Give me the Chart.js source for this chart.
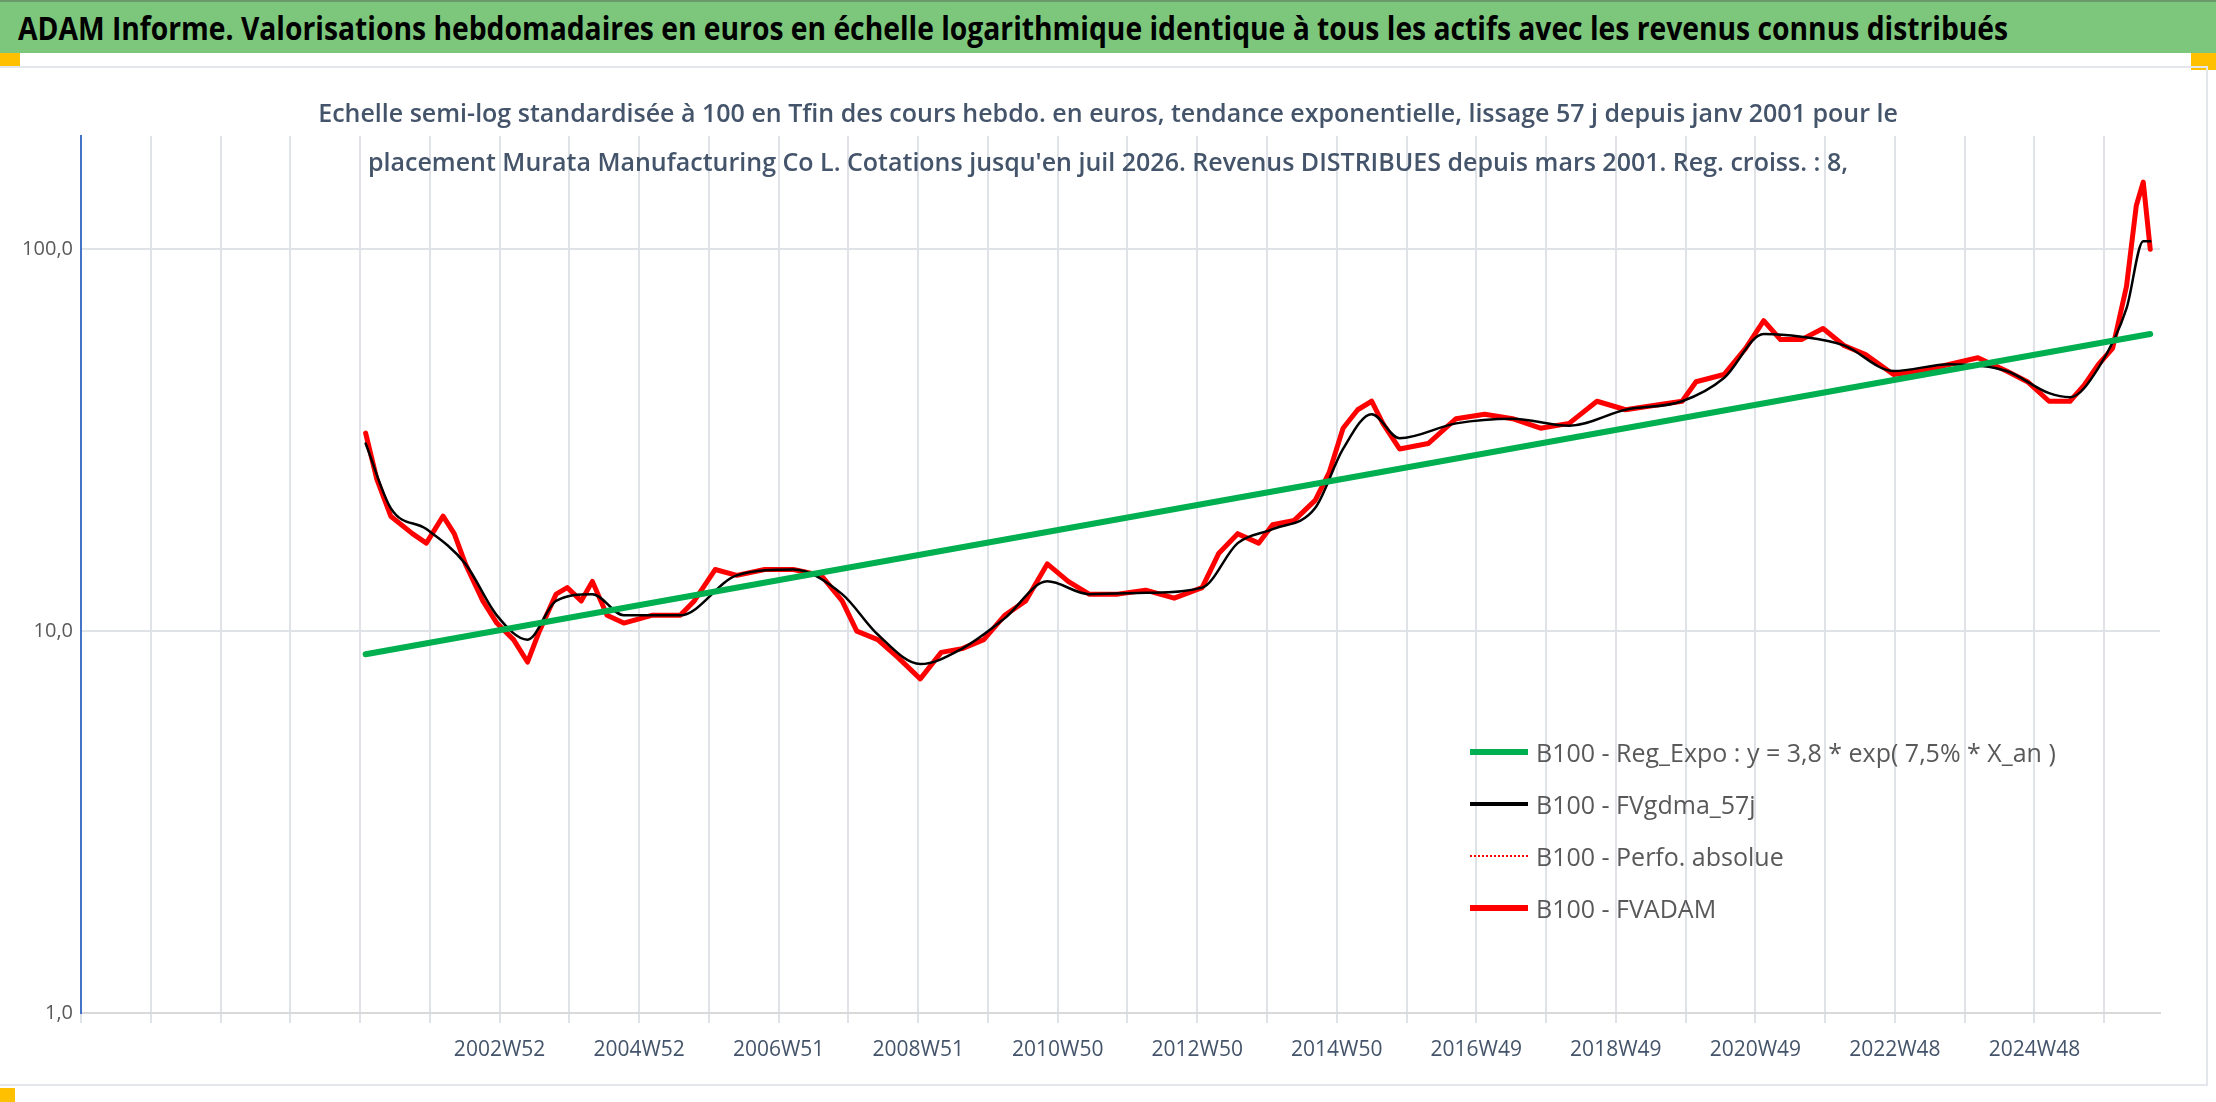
<!DOCTYPE html>
<html>
<head>
<meta charset="utf-8">
<script src="https://cdn.jsdelivr.net/npm/chart.js@4.4.1/dist/chart.umd.min.js"></script>
<style>
  html, body { margin: 0; padding: 0; background: #fff; }
  #wrap { position: relative; width: 2216px; height: 1102px; overflow: hidden; font-family: "Open Sans", "Noto Sans", sans-serif; }
  #header { position: absolute; left: 0; top: 0; width: 2216px; height: 53px; background: #7dc77d; border-top: 2px solid #6a9a6a; box-sizing: border-box; }
  #header span { position: absolute; left: 18px; top: 3px; font-size: 33px; font-weight: bold; color: #000; white-space: nowrap; transform-origin: left top; }
  .mark { position: absolute; background: #ffc000; }
  #frame { position: absolute; left: 0; top: 66px; width: 2208px; height: 1020px; border-top: 2px solid #e3e6ea; border-right: 2px solid #e3e6ea; border-bottom: 2px solid #e3e6ea; box-sizing: border-box; }
  #sub { position: absolute; left: 0; width: 2216px; top: 88px; text-align: center; color: #44546a; font-size: 25px; font-weight: 600; line-height: 49px; z-index: 2; }
  #sub div { white-space: nowrap; }
  canvas { position: absolute; left: 0; top: 0; }
  #legend { position: absolute; left: 1470px; top: 726px; font-size: 25px; color: #595959; z-index: 2; }
  #legend .row { height: 52px; display: flex; align-items: center; }
  #legend .sw { width: 58px; margin-right: 8px; }
</style>
</head>
<body>
<div id="wrap">
  <div id="header"><span id="htitle">ADAM Informe. Valorisations hebdomadaires en euros en échelle logarithmique identique à tous les actifs avec les revenus connus distribués</span></div>
  <div class="mark" style="left:0;top:53px;width:20px;height:13px"></div>
  <div class="mark" style="left:2191px;top:53px;width:25px;height:17px"></div>
  <div class="mark" style="left:0;top:1088px;width:15px;height:14px"></div>
  <div id="frame"></div>
  <canvas id="c" width="2216" height="1102"></canvas>
  <div id="sub">
    <div>Echelle semi-log standardisée à 100 en Tfin des cours hebdo. en euros, tendance exponentielle, lissage 57 j depuis janv 2001 pour le</div>
    <div>placement Murata Manufacturing Co L. Cotations jusqu'en juil 2026. Revenus DISTRIBUES depuis mars 2001. Reg. croiss. : 8,</div>
  </div>
  <div id="legend">
    <div class="row"><div class="sw" style="border-top:6px solid #00b050"></div>B100 - Reg_Expo : y = 3,8 * exp( 7,5% *  X_an )</div>
    <div class="row"><div class="sw" style="border-top:4px solid #000"></div>B100 - FVgdma_57j</div>
    <div class="row"><div class="sw" style="border-top:2px dotted #ff0000"></div>B100 - Perfo. absolue</div>
    <div class="row"><div class="sw" style="border-top:6px solid #ff0000"></div>B100 - FVADAM</div>
  </div>
</div>
<script>
// Time in decimal years
const fvYears = [2001.08, 2001.24, 2001.44, 2001.75, 2001.95, 2002.19, 2002.35, 2002.51, 2002.76, 2002.96,
  2003.20, 2003.40, 2003.57, 2003.81, 2003.97, 2004.17, 2004.33, 2004.54, 2004.78, 2005.18,
  2005.59, 2005.79, 2006.09, 2006.40, 2006.80, 2007.21, 2007.61, 2007.91, 2008.12, 2008.42,
  2008.72, 2009.03, 2009.33, 2009.63, 2009.94, 2010.24, 2010.54, 2010.85, 2011.15, 2011.45,
  2011.86, 2012.26, 2012.67, 2013.07, 2013.31, 2013.58, 2013.88, 2014.08, 2014.39, 2014.69,
  2014.89, 2015.09, 2015.30, 2015.50, 2015.66, 2015.90, 2016.31, 2016.71, 2017.12, 2017.52,
  2017.92, 2018.33, 2018.73, 2019.14, 2019.54, 2019.95, 2020.15, 2020.55, 2020.86, 2021.12,
  2021.36, 2021.66, 2021.97, 2022.27, 2022.58, 2022.98, 2023.38, 2023.79, 2024.19, 2024.60,
  2024.90, 2025.21, 2025.51, 2025.71, 2025.92, 2026.12, 2026.32, 2026.46, 2026.56, 2026.66];
const fvadam = [33, 25, 20, 18, 17, 20, 18, 15, 12, 10.5,
  9.5, 8.3, 10, 12.5, 13, 12, 13.5, 11, 10.5, 11,
  11, 12, 14.5, 14, 14.5, 14.5, 14, 12, 10, 9.5,
  8.5, 7.5, 8.8, 9, 9.5, 11, 12, 15, 13.5, 12.5,
  12.5, 12.8, 12.2, 13, 16, 18, 17, 19, 19.5, 22,
  26, 34, 38, 40, 35, 30, 31, 36, 37, 36,
  34, 35, 40, 38, 39, 40, 45, 47, 55, 65,
  58, 58, 62, 56, 53, 47, 48, 50, 52, 48,
  45, 40, 40, 44, 50, 55, 80, 130, 150, 100];
const smoothYears = [2001.08, 2001.44, 2001.95, 2002.51, 2002.96, 2003.40, 2003.81, 2004.33, 2004.78, 2005.59,
  2006.40, 2007.21, 2007.91, 2008.42, 2009.03, 2009.63, 2010.24, 2010.85, 2011.45, 2012.26,
  2013.07, 2013.58, 2014.08, 2014.69, 2015.09, 2015.50, 2015.90, 2016.71, 2017.52, 2018.33,
  2019.14, 2019.95, 2020.55, 2021.12, 2021.66, 2022.27, 2022.98, 2023.79, 2024.60, 2025.21,
  2025.51, 2025.92, 2026.32, 2026.56, 2026.66];
const smoothVals = [31, 21, 18.5, 15, 11, 9.5, 12, 12.5, 11, 11,
  14, 14.5, 12.5, 9.8, 8.2, 9, 10.8, 13.5, 12.5, 12.6,
  13, 17, 18.5, 21, 30, 37, 32, 35, 36, 34.5,
  38, 40, 46, 60, 59, 56, 48, 50, 48, 42,
  41, 49, 70, 105, 105];
const regYears = [2001.08, 2026.66];
const regVals = [8.7, 60];
const xLabelYears = [2003, 2005, 2007, 2009, 2011, 2013, 2015, 2017, 2019, 2021, 2023, 2025];
const xLabels = ['2002W52', '2004W52', '2006W51', '2008W51', '2010W50', '2012W50', '2014W50',
  '2016W49', '2018W49', '2020W49', '2022W48', '2024W48'];
const yTicks = [1, 10, 100];

function pts(xs, ys) { return xs.map((x, i) => ({ x: x, y: ys[i] })); }

// fit header title to width
const ht = document.getElementById('htitle');
ht.style.transform = 'scaleX(' + (1990 / ht.offsetWidth) + ')';

new Chart(document.getElementById('c'), {
  type: 'line',
  data: {
    datasets: [
      { label: 'B100 - FVADAM', data: pts(fvYears, fvadam), borderColor: '#ff0000', borderWidth: 5, order: 3 },
      { label: 'B100 - Perfo. absolue', data: pts(fvYears, fvadam), borderColor: '#ff0000', borderWidth: 1.5, borderDash: [2, 2], order: 4 },
      { label: 'B100 - FVgdma_57j', data: pts(smoothYears, smoothVals), borderColor: '#000', borderWidth: 2.5, tension: 0.4, cubicInterpolationMode: 'monotone', order: 2 },
      { label: 'B100 - Reg_Expo', data: pts(regYears, regVals), borderColor: '#00b050', borderWidth: 6, order: 1 }
    ]
  },
  options: {
    responsive: false,
    animation: false,
    pointRadius: 0,
    elements: { point: { radius: 0 }, line: { borderJoinStyle: 'round', borderCapStyle: 'round' } },
    layout: { padding: { top: 136, right: 56, left: 0, bottom: 0 } },
    plugins: { legend: { display: false }, tooltip: { enabled: false } },
    scales: {
      x: {
        type: 'linear', min: 1997, max: 2026.8,
        afterBuildTicks: s => { const t = []; for (let y = 1997; y <= 2026; y++) t.push({ value: y }); s.ticks = t; },
        afterFit: s => { s.height = 89; },
        ticks: {
          autoSkip: false, maxRotation: 0, color: '#44546a', font: { size: 21, family: 'Open Sans' }, padding: 14,
          callback: v => { const i = xLabelYears.indexOf(v); return i >= 0 ? xLabels[i] : ''; }
        },
        grid: { color: '#dfe3e8', lineWidth: 2, tickLength: 10 },
        border: { color: '#d9d9d9', width: 2 }
      },
      y: {
        type: 'logarithmic', min: 1, max: 198,
        afterBuildTicks: s => { s.ticks = yTicks.map(v => ({ value: v })); },
        afterFit: s => { s.width = 81; },
        ticks: { color: '#595959', font: { size: 20, family: 'Open Sans' }, padding: 8,
          callback: v => v.toFixed(1).replace('.', ',') },
        grid: { color: '#dfe3e8', lineWidth: 2, drawTicks: false },
        border: { color: '#4472c4', width: 2 }
      }
    }
  }
});
</script>
</body>
</html>
